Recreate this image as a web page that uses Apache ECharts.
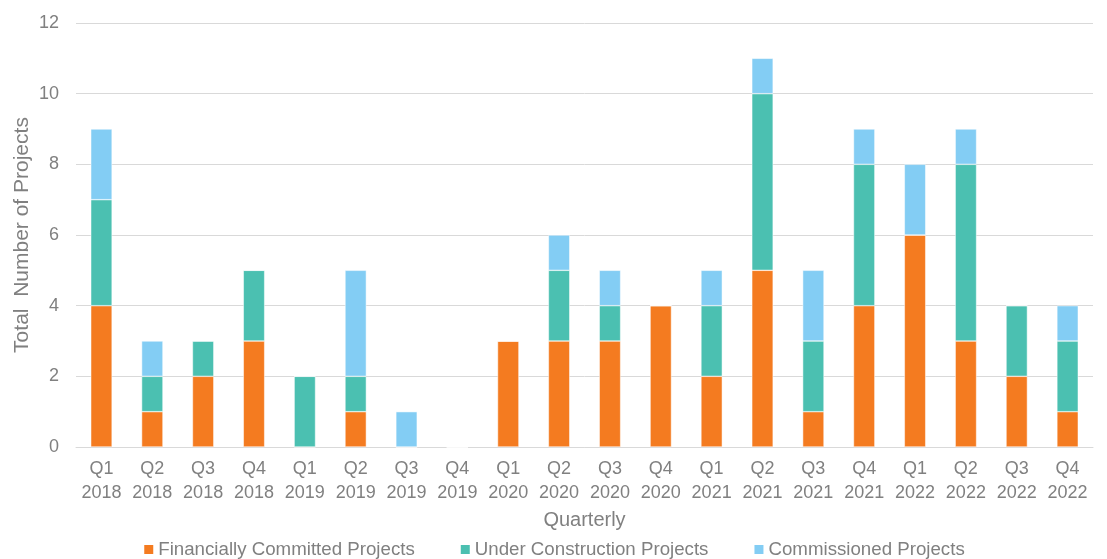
<!DOCTYPE html>
<html>
<head>
<meta charset="utf-8">
<script src="https://cdn.jsdelivr.net/npm/echarts@6/dist/echarts.min.js"></script>
<style>html,body{margin:0;padding:0;background:#fff;}#c{width:1107px;height:559px;}</style>
</head>
<body>
<div id="c"></div>
<script>
const categories = ['Q1\n2018','Q2\n2018','Q3\n2018','Q4\n2018','Q1\n2019','Q2\n2019','Q3\n2019','Q4\n2019','Q1\n2020','Q2\n2020','Q3\n2020','Q4\n2020','Q1\n2021','Q2\n2021','Q3\n2021','Q4\n2021','Q1\n2022','Q2\n2022','Q3\n2022','Q4\n2022'];
const financiallyCommitted = [4,1,2,3,0,1,0,0,3,3,3,4,2,5,1,4,6,3,2,1];
const underConstruction   = [3,1,1,2,2,1,0,0,0,2,1,0,2,5,2,4,0,5,2,2];
const commissioned        = [2,1,0,0,0,3,1,0,0,1,1,0,1,1,2,1,2,1,0,1];
const yTicks = {min:0, max:12, interval:2};

const grey = '#808080';
const font = 'Liberation Sans, Arial, sans-serif';
const chart = echarts.init(document.getElementById('c'));
const mk = (name, data, color) => ({
  name, type:'bar', stack:'total', data, barWidth:'42%',
  itemStyle:{color, borderColor:'#fff', borderWidth:0.5}
});
chart.setOption({
  animation:false,
  textStyle:{fontFamily:font},
  grid:{left:76, right:14, top:23, bottom:112},
  legend:{
    top:535, left:'center', itemWidth:11, itemHeight:11, itemGap:44,
    icon:'rect',
    textStyle:{color:grey, fontSize:18.7, fontFamily:font, padding:[0,0,0,-1]},
    data:['Financially Committed Projects','Under Construction Projects','Commissioned Projects']
  },
  xAxis:{
    type:'category', data:categories,
    name:'Quarterly', nameLocation:'middle', nameGap:63, nameMoveOverlap:false,
    nameTextStyle:{color:grey, fontSize:20, fontFamily:font},
    axisLine:{lineStyle:{color:'#d9d9d9', width:1}},
    axisTick:{show:false},
    axisLabel:{color:grey, fontSize:18, lineHeight:24, margin:10, fontFamily:font, interval:0}
  },
  yAxis:{
    type:'value', min:yTicks.min, max:yTicks.max, interval:yTicks.interval,
    name:'Total  Number of Projects', nameLocation:'middle', nameGap:43, nameMoveOverlap:false,
    nameTextStyle:{color:grey, fontSize:21, fontFamily:font},
    axisLine:{show:false}, axisTick:{show:false},
    axisLabel:{color:grey, fontSize:18, margin:17, fontFamily:font},
    splitLine:{lineStyle:{color:'#d9d9d9', width:1}}
  },
  series:[
    mk('Financially Committed Projects', financiallyCommitted, '#F47B20'),
    mk('Under Construction Projects', underConstruction, '#4BC0B1'),
    mk('Commissioned Projects', commissioned, '#83CDF4')
  ]
});
</script>
</body>
</html>
